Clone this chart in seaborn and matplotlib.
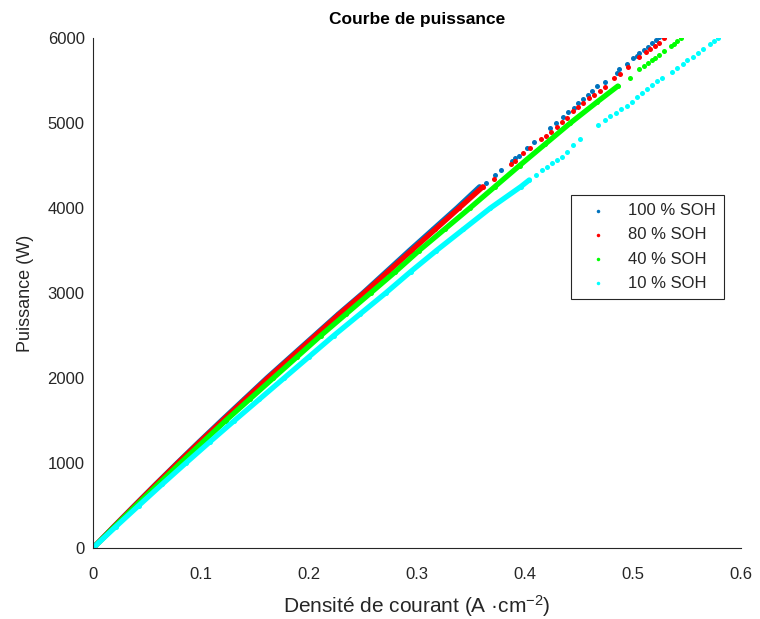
import pandas as pd
import matplotlib
matplotlib.use("Agg")
import matplotlib.pyplot as plt
import seaborn as sns

# Values
series_names = ["100 % SOH", "80 % SOH", "40 % SOH", "10 % SOH"]
series_colors = ["#0072BD", "#FF0000", "#00FF00", "#00FFFF"]

# dense part of each curve (drawn as a continuous band)
p_dense_100 = [0, 250, 500, 750, 1000, 1250, 1500, 1750, 2000, 2250, 2500, 2750, 3000, 3250, 3500, 3750, 4000, 4250]
x_dense_100 = [0, 0.0191, 0.0385, 0.0581, 0.078, 0.0983, 0.119, 0.140, 0.161, 0.183, 0.205, 0.227, 0.250, 0.2715, 0.293, 0.315, 0.337, 0.358]
p_dense_80 = [0, 250, 500, 750, 1000, 1250, 1500, 1750, 2000, 2250, 2500, 2750, 3000, 3250, 3500, 3750, 4000, 4250]
x_dense_80 = [0, 0.0192, 0.0387, 0.0584, 0.0785, 0.099, 0.120, 0.141, 0.162, 0.184, 0.206, 0.228, 0.251, 0.273, 0.295, 0.317, 0.339, 0.361]
p_dense_40 = [0, 250, 500, 750, 1000, 1250, 1500, 1750, 2000, 2250, 2500, 2750, 3000, 3250, 3500, 3750, 4000, 4250, 4500, 4750, 5000, 5250, 5435]
x_dense_40 = [0, 0.0198, 0.0399, 0.0603, 0.081, 0.102, 0.123, 0.145, 0.167, 0.189, 0.211, 0.234, 0.257, 0.280, 0.302, 0.3255, 0.349, 0.372, 0.395, 0.4185, 0.442, 0.467, 0.486]
p_dense_10 = [0, 250, 500, 750, 1000, 1250, 1500, 1750, 2000, 2250, 2500, 2750, 3000, 3250, 3500, 3750, 4000, 4250, 4330]
x_dense_10 = [0, 0.021, 0.0424, 0.064, 0.086, 0.1083, 0.131, 0.154, 0.177, 0.200, 0.223, 0.247, 0.271, 0.294, 0.318, 0.343, 0.368, 0.396, 0.404]

# sparse dots at high power
p_sparse_100 = [4290, 4388, 4447, 4553, 4588, 4612, 4706, 4776, 4941, 5000, 5070, 5129, 5180, 5230, 5280, 5330, 5380, 5430, 5482,
                5588, 5635, 5694, 5765, 5788, 5824, 5860, 5900, 5940, 5975, 6012]
x_sparse_100 = [0.364, 0.372, 0.378, 0.388, 0.391, 0.394, 0.402, 0.408, 0.423, 0.429, 0.435, 0.440, 0.445, 0.449, 0.454, 0.458, 0.462, 0.467, 0.474,
                0.485, 0.487, 0.494, 0.500, 0.504, 0.506, 0.510, 0.514, 0.518, 0.521, 0.524]
p_sparse_80 = [4341, 4518, 4553, 4647, 4706, 4812, 4847, 4894, 4953, 5012, 5059, 5141, 5190, 5240, 5290, 5335, 5380, 5424,
               5529, 5576, 5659, 5776, 5835, 5870, 5905, 5945, 6000]
x_sparse_80 = [0.371, 0.387, 0.391, 0.398, 0.405, 0.415, 0.419, 0.424, 0.430, 0.434, 0.439, 0.444, 0.449, 0.454, 0.459, 0.464, 0.469, 0.474,
               0.482, 0.488, 0.495, 0.506, 0.512, 0.516, 0.520, 0.524, 0.529]
p_sparse_40 = [5529, 5635, 5670, 5705, 5741, 5765, 5800, 5847, 5906, 5935, 5965, 6000]
x_sparse_40 = [0.497, 0.506, 0.510, 0.514, 0.518, 0.520, 0.524, 0.529, 0.535, 0.538, 0.541, 0.544]
p_sparse_10 = [4388, 4447, 4482, 4529, 4565, 4600, 4659, 4741, 4810, 4976, 5035, 5080, 5120, 5165, 5205, 5247, 5306, 5353,
               5400, 5445, 5490, 5529, 5600, 5647, 5695, 5741, 5776, 5824, 5870, 5929, 5965, 6000]
x_sparse_10 = [0.410, 0.416, 0.420, 0.425, 0.430, 0.434, 0.439, 0.444, 0.451, 0.468, 0.474, 0.479, 0.484, 0.489, 0.494, 0.499, 0.504, 0.508,
               0.513, 0.518, 0.522, 0.527, 0.536, 0.541, 0.546, 0.550, 0.556, 0.560, 0.565, 0.571, 0.575, 0.579]

x_ticks = [0, 0.1, 0.2, 0.3, 0.4, 0.5, 0.6]
x_tick_labels = ["0", "0.1", "0.2", "0.3", "0.4", "0.5", "0.6"]
y_ticks = [0, 1000, 2000, 3000, 4000, 5000, 6000]

dense = [(x_dense_100, p_dense_100), (x_dense_80, p_dense_80), (x_dense_40, p_dense_40), (x_dense_10, p_dense_10)]
sparse = [(x_sparse_100, p_sparse_100), (x_sparse_80, p_sparse_80), (x_sparse_40, p_sparse_40), (x_sparse_10, p_sparse_10)]

rows = []
for name, (xd, pd_), (xs, ps) in zip(series_names, dense, sparse):
    for xv, pv in zip(xd, pd_):
        rows.append({"serie": name, "j": xv, "P": pv, "part": "dense"})
    for xv, pv in zip(xs, ps):
        rows.append({"serie": name, "j": xv, "P": pv, "part": "sparse"})
df = pd.DataFrame(rows)

sns.set_style("white")
plt.rcParams["font.family"] = ["Liberation Sans", "DejaVu Sans"]
plt.rcParams["mathtext.fontset"] = "custom"
plt.rcParams["mathtext.rm"] = "Liberation Sans"
plt.rcParams["mathtext.it"] = "Liberation Sans:italic"

fig = plt.figure(figsize=(7.6, 6.19), dpi=100)
ax = fig.add_axes([0.1224, 0.1147, 0.8526, 0.8239])

for name, color in zip(series_names, series_colors):
    sub = df[df["serie"] == name]
    sns.lineplot(data=sub[sub["part"] == "dense"], x="j", y="P", color=color, lw=3.8,
                 sort=False, estimator=None, ax=ax, legend=False, solid_capstyle="round")
    sns.scatterplot(data=sub, x="j", y="P", color=color, s=13, linewidth=0, ax=ax, label=name)

ax.set_xlim(0, 0.6)
ax.set_ylim(0, 6000)
ax.set_xticks(x_ticks)
ax.set_xticklabels(x_tick_labels)
ax.set_yticks(y_ticks)
ax.tick_params(direction="in", length=5, width=0.8, colors="#262626", labelsize=12)
ax.tick_params(axis="x", pad=14)
ax.tick_params(axis="y", pad=6)
for side in ["top", "right"]:
    ax.spines[side].set_visible(False)
for side in ["left", "bottom"]:
    ax.spines[side].set_color("#262626")
    ax.spines[side].set_linewidth(0.8)

ax.set_title("Courbe de puissance", fontsize=12.5, fontweight="bold", color="black", pad=10)
ax.set_xlabel("Densité de courant (A ·cm$^{-2}$)", fontsize=15, color="#262626", labelpad=8)
ax.set_ylabel("Puissance (W)", fontsize=13, color="#262626", labelpad=10)

leg = ax.legend(loc="upper left", bbox_to_anchor=(0.7377, 0.6922), borderaxespad=0, fontsize=12,
                frameon=True, fancybox=False, edgecolor="#262626", framealpha=1, markerscale=0.7,
                handlelength=2.2, handletextpad=0.72, labelspacing=0.55, borderpad=0.5)
leg.get_frame().set_linewidth(0.8)

fig.savefig("out.png", dpi=100)
